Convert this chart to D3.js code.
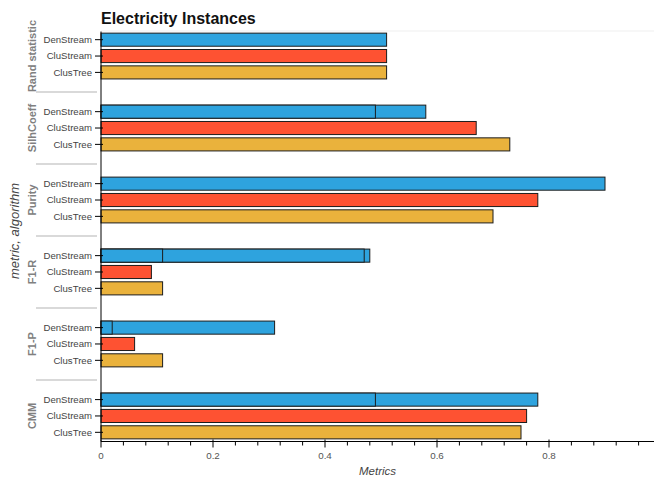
<!DOCTYPE html>
<html>
<head>
<meta charset="utf-8">
<script src="https://cdn.jsdelivr.net/npm/d3@7"></script>
<style>
  html, body { margin: 0; padding: 0; background: #fff; }
  svg { display: block; font-family: "Liberation Sans", Arial, Helvetica, sans-serif; }
</style>
</head>
<body>
<svg id="chart" width="654" height="479"></svg>
<script>
// Clustering quality metrics per algorithm on the Electricity stream
const metrics = ["Rand statistic", "SilhCoeff", "Purity", "F1-R", "F1-P", "CMM"];
const algorithms = ["DenStream", "CluStream", "ClusTree"];
// DenStream has several runs per metric; they are overlaid on one row
const denStreamRuns = [[0.51], [0.58, 0.49], [0.90], [0.48, 0.47, 0.11], [0.31, 0.02], [0.78, 0.49]];
const cluStreamValues = [0.51, 0.67, 0.78, 0.09, 0.06, 0.76];
const clusTreeValues = [0.51, 0.73, 0.70, 0.11, 0.11, 0.75];
const xTickValues = [0, 0.2, 0.4, 0.6, 0.8];
const xMinorStep = 0.04;
const xMax = 0.99;
const colors = { DenStream: "#2ea3de", CluStream: "#fe5232", ClusTree: "#eab23c" };

const svg = d3.select("#chart");
const W = 654;
const plotLeft = 101, plotTop = 31.5, plotBottom = 440.5;
const axisY = 441.5;

// Build one record per drawn bar
const bars = [];
metrics.forEach((m, i) => {
  denStreamRuns[i].slice().sort((a, b) => b - a)
    .forEach(v => bars.push({ metric: m, algorithm: "DenStream", value: v }));
  bars.push({ metric: m, algorithm: "CluStream", value: cluStreamValues[i] });
  bars.push({ metric: m, algorithm: "ClusTree", value: clusTreeValues[i] });
});

const x = d3.scaleLinear().domain([0, xMax]).range([plotLeft, plotLeft + xMax * 560]);

// Nested categorical scales: metric groups, then algorithms inside each group
const yGroup = d3.scaleBand().domain(metrics).range([plotTop, plotBottom])
  .paddingInner(1.4 / 4.4).paddingOuter(0);
const yInner = d3.scaleBand().domain(algorithms).range([0, yGroup.bandwidth()])
  .paddingInner(0.2).paddingOuter(0.1);
const yPos = d => yGroup(d.metric) + yInner(d.algorithm);

// Faint frame line along the top of the plot
svg.append("line")
  .attr("x1", plotLeft).attr("x2", W).attr("y1", plotTop - 0.5).attr("y2", plotTop - 0.5)
  .attr("stroke", "#efefef").attr("stroke-width", 1);

// Bars
svg.append("g").selectAll("rect").data(bars).join("rect")
  .attr("x", x(0))
  .attr("y", d => yPos(d))
  .attr("width", d => x(d.value) - x(0))
  .attr("height", yInner.bandwidth())
  .attr("fill", d => colors[d.algorithm])
  .attr("stroke", "#1c1c1c")
  .attr("stroke-width", 1);

// X axis: major ticks with labels, minor ticks between them
const xAxisG = svg.append("g").attr("transform", `translate(0,${axisY})`);
xAxisG.append("line").attr("x1", plotLeft).attr("x2", W).attr("y1", 0).attr("y2", 0)
  .attr("stroke", "#000").attr("stroke-width", 1);
const minorTicks = d3.range(xMinorStep, xMax, xMinorStep)
  .filter(v => !xTickValues.some(t => Math.abs(t - v) < 1e-6));
xAxisG.selectAll("line.minor").data(minorTicks).join("line").attr("class", "minor")
  .attr("x1", d => x(d)).attr("x2", d => x(d)).attr("y1", 0).attr("y2", 4)
  .attr("stroke", "#000");
xAxisG.selectAll("line.major").data(xTickValues).join("line").attr("class", "major")
  .attr("x1", d => x(d)).attr("x2", d => x(d)).attr("y1", -2).attr("y2", 6)
  .attr("stroke", "#000");
xAxisG.selectAll("text").data(xTickValues).join("text")
  .attr("x", d => x(d)).attr("y", 17)
  .attr("text-anchor", "middle")
  .attr("font-size", "9.8px").attr("fill", "#555")
  .text(d => d3.format("")(d));

svg.append("text")
  .attr("x", (plotLeft + W) / 2).attr("y", 475)
  .attr("text-anchor", "middle")
  .attr("font-size", "11.5px").attr("font-style", "italic").attr("fill", "#444")
  .text("Metrics");

// Y axis: algorithm labels, group labels and separators
svg.append("line").attr("x1", plotLeft).attr("x2", plotLeft).attr("y1", plotTop).attr("y2", axisY)
  .attr("stroke", "#000").attr("stroke-width", 1);

const rows = metrics.flatMap(m => algorithms.map(a => ({ metric: m, algorithm: a })));
const rowCenter = d => yPos(d) + yInner.bandwidth() / 2;
svg.append("g").selectAll("line").data(rows).join("line")
  .attr("x1", plotLeft - 6).attr("x2", plotLeft + 2)
  .attr("y1", d => rowCenter(d)).attr("y2", d => rowCenter(d))
  .attr("stroke", "#000");
svg.append("g").selectAll("text").data(rows).join("text")
  .attr("x", plotLeft - 9).attr("y", d => rowCenter(d))
  .attr("dy", "0.35em")
  .attr("text-anchor", "end")
  .attr("font-size", "9.6px").attr("fill", "#444")
  .text(d => d.algorithm);

svg.append("g").selectAll("text").data(metrics).join("text")
  .attr("transform", m => `translate(36,${yGroup(m) + yGroup.bandwidth() / 2}) rotate(-90)`)
  .attr("text-anchor", "middle")
  .attr("font-size", "11px").attr("font-weight", "600").attr("fill", "#808080")
  .text(m => m);

const gap = yGroup.step() - yGroup.bandwidth();
svg.append("g").selectAll("line").data(metrics.slice(1)).join("line")
  .attr("x1", 36).attr("x2", 97)
  .attr("y1", m => yGroup(m) - gap / 2).attr("y2", m => yGroup(m) - gap / 2)
  .attr("stroke", "#d9d9d9").attr("stroke-width", 2);

svg.append("text")
  .attr("transform", `translate(19,231) rotate(-90)`)
  .attr("text-anchor", "middle")
  .attr("font-size", "13px").attr("font-style", "italic").attr("fill", "#444")
  .text("metric, algorithm");

// Title
svg.append("text")
  .attr("x", plotLeft).attr("y", 23.5)
  .attr("font-size", "16px").attr("font-weight", "bold").attr("fill", "#111")
  .text("Electricity Instances");
</script>
</body>
</html>
